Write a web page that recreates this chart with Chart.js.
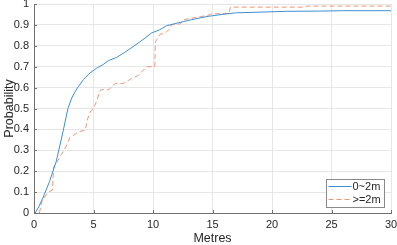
<!DOCTYPE html>
<html>
<head>
<meta charset="utf-8">
<script src="https://cdn.jsdelivr.net/npm/chart.js@4"></script>
<style>
  html, body { margin: 0; padding: 0; background: #fff; }
  #wrap { width: 397px; height: 245px; }
</style>
</head>
<body>
<div id="wrap"><canvas id="chart" width="397" height="245"></canvas></div>
<script>
// ECDF of distance, two groups
const nearX = [0.1, 0.4, 0.75, 1.3, 1.87, 2.44, 2.85, 3.17, 3.5, 3.75, 4.15, 4.7, 5.27, 5.8, 6.25, 6.96, 7.52, 8.08, 8.75, 9.4, 9.87, 10.57, 11.13, 11.83, 12.5, 13.23, 14.63, 16.05, 17.0, 18.4, 21.2, 24, 26, 30];
const nearY = [0, 0.03, 0.072, 0.15, 0.247, 0.39, 0.5, 0.55, 0.585, 0.606, 0.638, 0.67, 0.693, 0.71, 0.729, 0.745, 0.765, 0.786, 0.813, 0.84, 0.861, 0.877, 0.896, 0.906, 0.915, 0.925, 0.941, 0.952, 0.958, 0.96, 0.965, 0.966, 0.968, 0.968];

const farX = [0.45, 0.7, 1.2, 1.55, 1.65, 1.9, 2.2, 2.5, 2.8, 3.0, 3.4, 3.8, 4.3, 4.5, 4.8, 5.0, 5.3, 5.5, 5.65, 6.3, 6.6, 6.85, 7.5, 7.8, 8.1, 8.8, 9.3, 9.45, 10.15, 10.2, 10.45, 10.6, 11.0, 11.4, 11.55, 12.3, 12.6, 13.0, 13.5, 14.0, 14.6, 14.9, 16.4, 16.5, 22.8, 23.0, 30];
const farY = [0, 0.06, 0.10, 0.11, 0.22, 0.24, 0.27, 0.30, 0.33, 0.36, 0.375, 0.39, 0.395, 0.45, 0.49, 0.50, 0.54, 0.58, 0.59, 0.59, 0.61, 0.62, 0.62, 0.63, 0.64, 0.66, 0.69, 0.70, 0.70, 0.82, 0.84, 0.855, 0.86, 0.88, 0.90, 0.905, 0.925, 0.93, 0.935, 0.94, 0.945, 0.953, 0.955, 0.985, 0.985, 0.99, 0.99];

const seriesLabels = ["0~2m", ">=2m"];
const xTitle = "Metres";
const yTitle = "Probability";

const FONT = "'Liberation Sans', Arial, Helvetica, sans-serif";
const TEXT = "#262626";
const BLUE = "#3d8fd2";
const ORANGE = "#ef9674";

const toPoints = (xs, ys) => xs.map((x, i) => ({ x, y: ys[i] }));

// inward tick marks + legend box inside the axes (bottom right)
const matlabBits = {
  id: "matlabBits",
  afterDraw(chart) {
    const { ctx, chartArea: a, scales: { x, y } } = chart;
    ctx.save();
    ctx.strokeStyle = "#707070";
    ctx.lineWidth = 1;
    ctx.beginPath();
    for (let v = 0; v <= 30; v += 5) {
      const px = Math.round(x.getPixelForValue(v)) + 0.5;
      ctx.moveTo(px, a.bottom);
      ctx.lineTo(px, a.bottom - 3);
    }
    for (let i = 0; i <= 10; i++) {
      const py = Math.round(y.getPixelForValue(i / 10)) + 0.5;
      ctx.moveTo(a.left, py);
      ctx.lineTo(a.left + 3, py);
    }
    ctx.stroke();

    // legend
    const bx = 326.5, by = 179.5, bw = 58, bh = 28;
    ctx.fillStyle = "#fff";
    ctx.fillRect(bx, by, bw, bh);
    ctx.strokeStyle = "#8a8a8a";
    ctx.strokeRect(bx, by, bw, bh);
    ctx.font = "11px " + FONT;
    ctx.textBaseline = "middle";
    chart.data.datasets.forEach((ds, i) => {
      const ly = by + 7 + i * 13;
      ctx.strokeStyle = ds.borderColor;
      ctx.lineWidth = 1;
      ctx.setLineDash(ds.borderDash || []);
      ctx.beginPath();
      ctx.moveTo(bx + 2, ly);
      ctx.lineTo(bx + 25, ly);
      ctx.stroke();
      ctx.setLineDash([]);
      ctx.fillStyle = TEXT;
      ctx.fillText(ds.label, bx + 26, ly);
    });
    ctx.restore();
  }
};

new Chart(document.getElementById("chart"), {
  type: "line",
  data: {
    datasets: [
      {
        label: seriesLabels[0],
        data: toPoints(nearX, nearY),
        borderColor: BLUE,
        borderWidth: 1,
        pointRadius: 0,
        tension: 0
      },
      {
        label: seriesLabels[1],
        data: toPoints(farX, farY),
        borderColor: ORANGE,
        borderWidth: 1,
        borderDash: [5, 3],
        pointRadius: 0,
        tension: 0
      }
    ]
  },
  options: {
    responsive: false,
    animation: false,
    layout: { padding: { top: 4, right: 6, left: 0, bottom: 0 } },
    plugins: { legend: { display: false }, tooltip: { enabled: false } },
    scales: {
      x: {
        type: "linear",
        min: 0,
        max: 30,
        ticks: { stepSize: 5, color: TEXT, font: { family: FONT, size: 11 }, padding: 5, maxRotation: 0 },
        grid: { color: "#e6e6e6", drawTicks: false },
        border: { color: "#707070" },
        title: { display: true, text: xTitle, color: TEXT, font: { family: FONT, size: 12.5, lineHeight: 1 }, padding: 0 },
        afterFit(s) { s.height = 32; s.paddingLeft = 0; s.paddingRight = 0; }
      },
      y: {
        min: 0,
        max: 1,
        ticks: {
          stepSize: 0.1,
          color: TEXT,
          font: { family: FONT, size: 11 },
          padding: 5,
          callback: v => String(Math.round(v * 10) / 10)
        },
        grid: { color: "#e6e6e6", drawTicks: false },
        border: { color: "#707070" },
        title: { display: true, text: yTitle, color: TEXT, font: { family: FONT, size: 12.5, lineHeight: 1 }, padding: { top: 3 } },
        afterFit(s) { s.width = 34; s.paddingTop = 0; s.paddingBottom = 0; }
      }
    }
  },
  plugins: [matlabBits]
});
</script>
</body>
</html>
